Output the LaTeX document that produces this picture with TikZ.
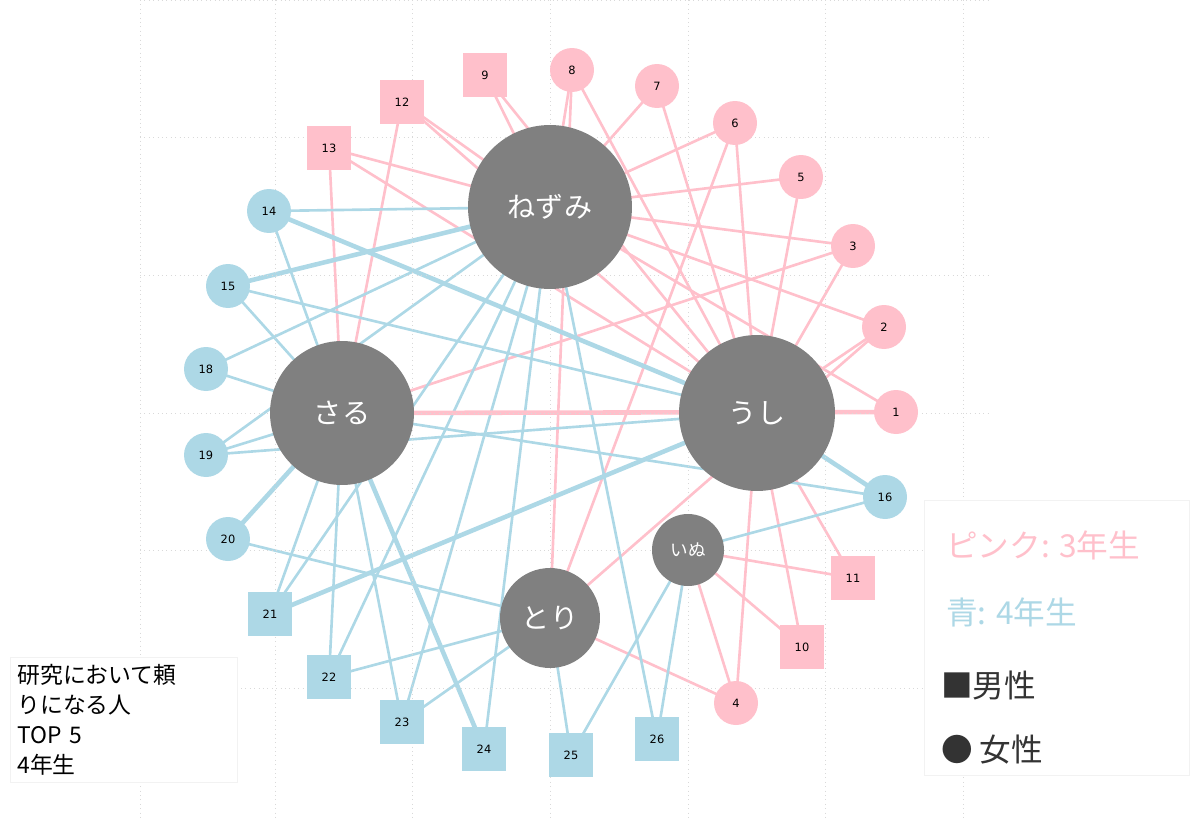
\documentclass[tikz,border=0pt]{standalone}
\usepackage{fontspec}
\setmainfont{DejaVu Sans}
\newfontfamily\jp{Noto Sans CJK JP}
\usetikzlibrary{backgrounds}
\definecolor{pk}{RGB}{255,192,203}
\definecolor{bl}{RGB}{173,216,230}
\definecolor{big}{RGB}{128,128,128}
\tikzset{
 bign/.style={circle,fill=big,text=white,inner sep=0pt,font=\jp\fontsize{16}{16}\selectfont},
 pc/.style={circle,fill=pk,minimum size=0.88cm,inner sep=0pt,font=\fontsize{6.5}{6.5}\selectfont},
 bc/.style={circle,fill=bl,minimum size=0.88cm,inner sep=0pt,font=\fontsize{6.5}{6.5}\selectfont},
 ps/.style={rectangle,fill=pk,minimum size=0.88cm,inner sep=0pt,font=\fontsize{6.5}{6.5}\selectfont},
 bs/.style={rectangle,fill=bl,minimum size=0.88cm,inner sep=0pt,font=\fontsize{6.5}{6.5}\selectfont},
 pe/.style={draw=pk,line width=1.5pt},
 be/.style={draw=bl,line width=1.5pt},
 thk/.style={line width=2.6pt},
 grid/.style={draw=black!15,dotted,line width=0.5pt}
}
\begin{document}
\begin{tikzpicture}[x=0.02cm,y=-0.02cm]
\useasboundingbox (0,0) rectangle (1200,818);
\foreach \gx in {140,275,412,550,688,825,963} \draw[grid] (\gx,0) -- (\gx,818);
\foreach \gy in {0,137,275,413,550,688} \draw[grid] (140,\gy) -- (990,\gy);
% big nodes
\node[bign,minimum size=3.28cm] (N) at (550,207) {ねずみ};
\node[bign,minimum size=3.12cm] (U) at (757,413) {うし};
\node[bign,minimum size=2.88cm] (S) at (342,413) {さる};
\node[bign,minimum size=2.0cm] (T) at (550,618) {とり};
\node[bign,minimum size=1.44cm,font=\jp\fontsize{10}{10}\selectfont] (I) at (688,550) {いぬ};
% small nodes
\node[pc] (p1) at (896,412) {1};
\node[pc] (p2) at (884,327) {2};
\node[pc] (p3) at (853,246) {3};
\node[pc] (p4) at (736,703) {4};
\node[pc] (p5) at (801,177) {5};
\node[pc] (p6) at (735,123) {6};
\node[pc] (p7) at (657,86) {7};
\node[pc] (p8) at (572,70) {8};
\node[ps] (p9) at (485,75) {9};
\node[ps] (p10) at (802,647) {10};
\node[ps] (p11) at (853,578) {11};
\node[ps] (p12) at (402,102) {12};
\node[ps] (p13) at (329,148) {13};
\node[bc] (b14) at (269,211) {14};
\node[bc] (b15) at (228,286) {15};
\node[bc] (b16) at (885,497) {16};
\node[bc] (b18) at (206,369) {18};
\node[bc] (b19) at (206,455) {19};
\node[bc] (b20) at (228,539) {20};
\node[bs] (b21) at (270,614) {21};
\node[bs] (b22) at (329,677) {22};
\node[bs] (b23) at (402,722) {23};
\node[bs] (b24) at (484,749) {24};
\node[bs] (b25) at (571,755) {25};
\node[bs] (b26) at (657,739) {26};
\begin{scope}[on background layer]
\foreach \a/\b in {p1/N,p1/U,p1/S,p2/N,p2/U,p2/T,p3/N,p3/U,p3/S,p5/N,p5/U,p6/N,p6/U,p6/T,p7/N,p7/U,p8/N,p8/U,p8/T,p9/N,p9/U,p12/N,p12/U,p12/S,p13/N,p13/U,p13/S,p4/U,p4/I,p4/T,p10/U,p10/I,p11/U,p11/I}
  \draw[pe] (\a.center) -- (\b.center);
\foreach \a/\b in {b14/N,b14/S,b14/U,b15/N,b15/S,b15/U,b18/N,b18/S,b19/N,b19/S,b19/U,b20/S,b20/T,b21/S,b21/N,b21/U,b22/S,b22/N,b22/T,b23/S,b23/N,b23/T,b24/S,b24/N,b25/T,b25/I,b26/N,b26/I,b16/U,b16/S,b16/I}
  \draw[be] (\a.center) -- (\b.center);
\draw[pe,thk] (p1.center) -- (S.center);
\draw[be,thk] (b15.center) -- (N.center);
\draw[be,thk] (b14.center) -- (U.center);
\draw[be,thk] (b24.center) -- (S.center);
\draw[be,thk] (b20.center) -- (S.center);
\draw[be,thk] (b21.center) -- (U.center);
\draw[be,thk] (b16.center) -- (U.center);
\end{scope}
% legend
\node[draw=black!5,fill=white,minimum width=5.3cm,minimum height=5.5cm] (leg) at (1057,638) {};
\node[text=pk,font=\jp\fontsize{18}{18}\selectfont,anchor=west] (l1) at (940,545) {ピンク: 3年生};
\node[text=bl,font=\jp\fontsize{18}{18}\selectfont,anchor=west] (l2) at (940,612) {青: 4年生};
\node[text=black!80,font=\jp\fontsize{18}{18}\selectfont,anchor=west] (l3) at (935,685) {■男性};
\node[text=black!80,font=\jp\fontsize{18}{18}\selectfont,anchor=west] (l4) at (935,750) {● 女性};
\node[draw=black!5,fill=white,anchor=north west,align=left,inner sep=4pt,font=\jp\fontsize{13}{17}\selectfont,text width=4.25cm] (box) at (10,657) {研究において頼\\りになる人\\TOP 5\\4年生};
\end{tikzpicture}
\end{document}
